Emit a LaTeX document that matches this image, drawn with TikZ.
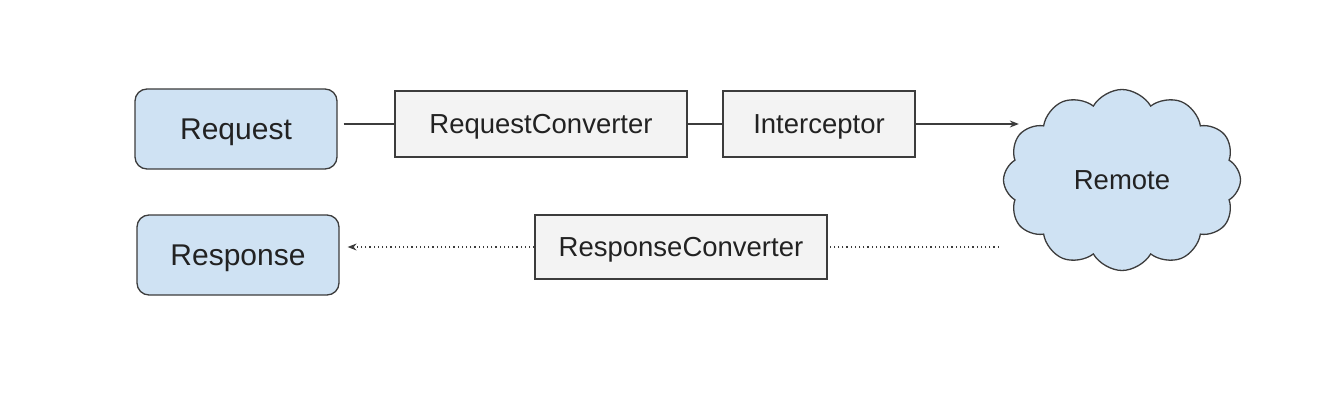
\documentclass[tikz,border=0pt]{standalone}
\usepackage{fontspec}
\setmainfont{Liberation Sans}
\usetikzlibrary{shapes.symbols,arrows.meta,calc}
\definecolor{bluefill}{HTML}{CFE2F3}
\definecolor{grayfill}{HTML}{F3F3F3}
\definecolor{edge}{HTML}{3C3C3C}
\definecolor{txt}{HTML}{222222}
\begin{document}
\begin{tikzpicture}[x=1pt,y=-1pt,
  bluebox/.style={draw=edge,fill=bluefill,line width=1.3pt,rounded corners=12pt,
    minimum width=202pt,minimum height=80pt,inner sep=0pt,font=\fontsize{30}{34}\selectfont,
    text height=21.5pt,text depth=0pt,text=txt},
  graybox/.style={draw=edge,fill=grayfill,line width=1.3pt,
    minimum height=66pt,inner sep=0pt,font=\fontsize{27.5}{32}\selectfont,
    text height=19.7pt,text depth=0pt,text=txt},
  conn/.style={draw=edge,line width=1.3pt},
  dotconn/.style={draw=edge,line width=1.1pt,dash pattern=on 1.2pt off 3pt},
  tip/.style={-{Stealth[length=9pt,width=7pt]}}]
\useasboundingbox (0,0) rectangle (1342,420);
\node[bluebox] (req) at (236,129) {Request};
\node[bluebox] (resp) at (238,255) {Response};
\node[graybox,minimum width=292pt] (rc) at (541,124) {RequestConverter};
\node[graybox,minimum width=192pt] (int) at (819,124) {Interceptor};
\node[graybox,minimum width=292pt,minimum height=64pt] (resc) at (681,247) {ResponseConverter};
\node[cloud,cloud puffs=12,cloud puff arc=120,aspect=1.3,draw=edge,fill=bluefill,line width=1.3pt,
  minimum width=237pt,minimum height=181pt,inner sep=0pt,font=\fontsize{27.5}{32}\selectfont,
  text height=19.7pt,text depth=0pt,text=txt] (cloud) at (1122,180) {Remote};
\draw[conn] ([xshift=6pt]req.east |- rc.west) -- (rc.west);
\draw[conn] (rc.east) -- (int.west);
\draw[conn,tip] (int.east) -- ([xshift=16pt]cloud.west |- int.east);
\draw[dotconn] ([xshift=-4pt]cloud.west |- resc.east) -- (resc.east);
\draw[dotconn,tip] (resc.west) -- ([xshift=8pt]resp.east |- resc.west);
\end{tikzpicture}
\end{document}
